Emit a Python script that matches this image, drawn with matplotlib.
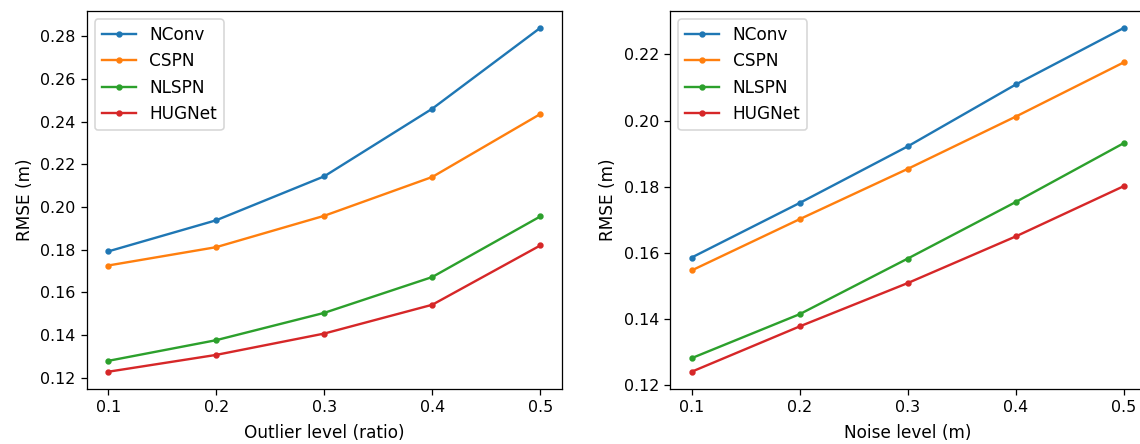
import matplotlib
matplotlib.use("Agg")
import matplotlib.pyplot as plt

x = [0.1, 0.2, 0.3, 0.4, 0.5]
methods = ["NConv", "CSPN", "NLSPN", "HUGNet"]

# RMSE vs outlier ratio
outlier_rmse = {
    "NConv":  [0.1791, 0.1937, 0.2143, 0.2460, 0.2839],
    "CSPN":   [0.1725, 0.1811, 0.1958, 0.2140, 0.2435],
    "NLSPN":  [0.1278, 0.1375, 0.1503, 0.1671, 0.1955],
    "HUGNet": [0.1227, 0.1306, 0.1406, 0.1541, 0.1819],
}

# RMSE vs noise level
noise_rmse = {
    "NConv":  [0.1586, 0.1751, 0.1922, 0.2109, 0.2280],
    "CSPN":   [0.1547, 0.1702, 0.1854, 0.2012, 0.2176],
    "NLSPN":  [0.1282, 0.1415, 0.1583, 0.1754, 0.1932],
    "HUGNet": [0.1241, 0.1378, 0.1509, 0.1650, 0.1802],
}

fig = plt.figure(figsize=(10, 444 / 114), dpi=114)
ax1 = fig.add_axes([0.0759, 0.124, 0.417, 0.852])
ax2 = fig.add_axes([0.5877, 0.124, 0.4172, 0.852])

for name in methods:
    ax1.plot(x, outlier_rmse[name], marker='.', label=name)
    ax2.plot(x, noise_rmse[name], marker='.', label=name)

ax1.set_xlabel('Outlier level (ratio)', fontsize=10.7, labelpad=5.5)
ax1.set_ylabel('RMSE (m)', fontsize=10.7)
ax2.set_xlabel('Noise level (m)', fontsize=10.7, labelpad=5.5)
ax2.set_ylabel('RMSE (m)', fontsize=10.7)
for ax in (ax1, ax2):
    ax.set_xticks(x)
    ax.tick_params(labelsize=10)
    ax.legend(loc='upper left', fontsize=10.7)
ax2.spines['right'].set_visible(False)

fig.savefig('out.png', dpi=114)
